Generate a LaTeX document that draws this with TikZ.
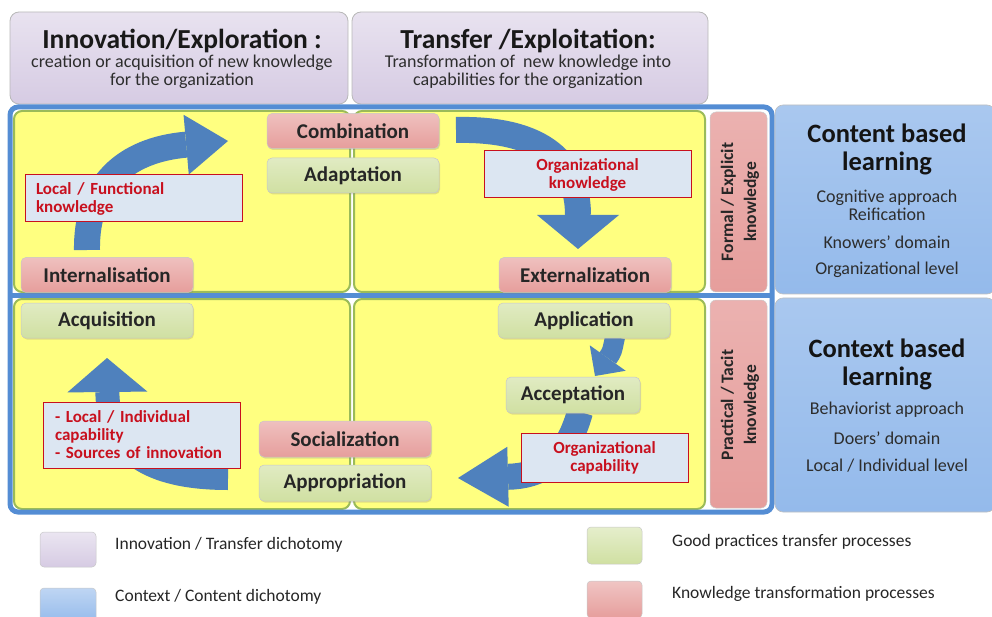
\documentclass[tikz,border=0pt]{standalone}
\usepackage{fontspec}
\setmainfont{Carlito}
\usetikzlibrary{arrows.meta,shadows}
\definecolor{pinkc}{RGB}{230,158,156}
\definecolor{greenc}{RGB}{208,224,162}
\definecolor{lavc}{RGB}{214,203,227}
\definecolor{lblue}{RGB}{148,186,235}
\definecolor{frameb}{RGB}{84,141,212}
\definecolor{yel}{RGB}{255,255,128}
\definecolor{yelline}{RGB}{155,187,89}
\definecolor{lblfill}{RGB}{220,230,242}
\definecolor{lblred}{RGB}{200,16,30}
\definecolor{arrb}{RGB}{79,129,189}
\definecolor{txtgray}{RGB}{45,45,45}
\newcommand{\fsz}[2]{\fontsize{#1}{#2}\selectfont}
\tikzset{
  proc/.style={rounded corners=5pt, minimum width=172pt, minimum height=35pt, inner sep=0pt,
    font=\bfseries\fsz{21}{22}, text=black!85, draw=black!22, line width=0.5pt,
    drop shadow={opacity=0.25, shadow xshift=1pt, shadow yshift=-1.5pt}},
  pinkproc/.style={proc, top color=pinkc!65!white, bottom color=pinkc},
  greenproc/.style={proc, top color=greenc!65!white, bottom color=greenc},
  topbox/.style={rounded corners=9pt, top color=lavc!55!white, bottom color=lavc, draw=black!28,
    line width=0.8pt, inner sep=0pt},
  toptitle/.style={font=\bfseries\fsz{27.5}{30}, text=black!90, inner sep=0pt},
  topsub/.style={font=\fsz{18}{18}, text=txtgray, align=center, inner sep=0pt},
  panel/.style={fill=yel, draw=yelline, line width=2pt, rounded corners=8pt},
  pinkv/.style={rounded corners=6pt, top color=pinkc!80!white, bottom color=pinkc, draw=black!20,
    line width=0.5pt, minimum width=57pt, inner sep=0pt},
  vtext/.style={rotate=90, font=\bfseries\fsz{17.5}{23}, text=black!85, align=center, inner sep=0pt},
  bluebox/.style={rounded corners=8pt, top color=lblue!80!white, bottom color=lblue, draw=black!25,
    line width=0.6pt, minimum width=220pt, inner sep=0pt},
  btitle/.style={font=\bfseries\fsz{26.5}{28}, text=black!92, align=center, inner sep=0pt},
  bsub/.style={font=\fsz{18}{18}, text=txtgray, align=center, inner sep=0pt},
  lbl/.style={draw=lblred, line width=1pt, fill=lblfill, text=lblred, font=\bfseries\fsz{17}{18}, inner sep=0pt},
  arr/.style={draw=arrb, line width=#1},
  legsq/.style={rounded corners=4pt, draw=black!22, line width=0.5pt, minimum width=56pt,
    minimum height=35pt, inner sep=0pt},
  legtxt/.style={font=\fsz{17.5}{18}, text=black!85, anchor=west, inner sep=0pt}
}
\begin{document}
\begin{tikzpicture}[x=1pt,y=-1pt]
\useasboundingbox (0,0) rectangle (992,617);
\clip (0,0) rectangle (992,617);

% top boxes
\node[topbox, minimum width=338pt, minimum height=92pt] (inn) at (179,58) {};
\node[toptitle] (innt) at (182,41) {Innovation/Exploration :};
\node[topsub] (inns) at (182,72) {creation or acquisition of new knowledge\\for the organization};
\node[topbox, minimum width=356pt, minimum height=92pt] (tra) at (530,58) {};
\node[toptitle] (trat) at (528,41) {Transfer /Exploitation:};
\node[topsub] (tras) at (528,72) {Transformation of \ new knowledge into\\capabilities for the organization};

% yellow panels
\draw[panel] (14,111) rectangle (350,292);
\draw[panel] (354,111) rectangle (705,292);
\draw[panel] (14,299) rectangle (350,509);
\draw[panel] (354,299) rectangle (705,509);

% blue frame
\draw[frameb, line width=5pt, rounded corners=8pt] (10,107) rectangle (772,512);
\draw[frameb, line width=5pt] (10,295.5) -- (772,295.5);

% pink vertical boxes
\node[pinkv, minimum height=180pt] (fe) at (738.5,202) {};
\node[vtext] (fet) at (740,202) {Formal / Explicit\\knowledge};
\node[pinkv, minimum height=208pt] (pt) at (738.5,404) {};
\node[vtext] (ptt) at (740,405) {Practical / Tacit\\knowledge};

% right blue boxes
\node[bluebox, minimum height=189pt] (cb) at (885,199.5) {};
\node[btitle] (cbt) at (887,149) {Content based\\learning};
\node[bsub] (cbs1) at (887,205) {Cognitive approach\\Reification};
\node[bsub] (cbs2) at (887,242) {Knowers’ domain};
\node[bsub] (cbs3) at (887,270) {Organizational level};
\node[bluebox, minimum height=214pt] (xb) at (885,405) {};
\node[btitle] (xbt) at (887,364) {Context based\\learning};
\node[bsub] (xbs1) at (887,410) {Behaviorist approach};
\node[bsub] (xbs2) at (887,438) {Doers’ domain};
\node[bsub] (xbs3) at (887,466) {Local / Individual level};

% arrow end points
\coordinate (a1s) at (87,250);  \coordinate (a1e) at (228,141);
\coordinate (a2s) at (456,130); \coordinate (a2e) at (578,249);
\coordinate (a3s) at (615,337); \coordinate (a3e) at (595,376);
\coordinate (a4s) at (580,412); \coordinate (a4e) at (458,478);
\coordinate (a5s) at (228,478); \coordinate (a5e) at (107,358);

\draw[arr=26pt, -{Triangle[length=42pt,width=60pt,line width=0pt]}] (a1s) .. controls (86,185) and (125,150) .. (a1e);
\draw[arr=26pt, -{Triangle[length=34pt,width=82pt,line width=0pt]}] (a2s) .. controls (545,128) and (578,165) .. (a2e);
\draw[arr=20pt, -{Triangle[length=22pt,width=44pt,line width=0pt]}] (a3s) .. controls (612,352) .. (a3e);
\draw[arr=26pt, -{Triangle[length=50pt,width=60pt,line width=0pt]}] (a4s) .. controls (566,462) and (540,476) .. (a4e);
\draw[arr=24pt, -{Triangle[length=34pt,width=80pt,line width=0pt]}] (a5s) .. controls (150,478) and (108,452) .. (a5e);

% process boxes
\node[pinkproc] (comb) at (353,131) {Combination};
\node[greenproc] (adap) at (353,175.5) {Adaptation};
\node[pinkproc] (intl) at (107,275) {Internalisation};
\node[pinkproc] (extl) at (585,275) {Externalization};
\node[greenproc] (acq) at (107,320.5) {Acquisition};
\node[greenproc] (appl) at (584,320.5) {Application};
\node[greenproc, minimum width=134pt, minimum height=36pt] (acc) at (573,395) {Acceptation};
\node[pinkproc, minimum height=36pt] (soc) at (345,439) {Socialization};
\node[greenproc, minimum height=36pt] (appr) at (345,483) {Appropriation};

% labels
\node[lbl, minimum width=217pt, minimum height=47pt, text width=195pt, align=left] (lf) at (133.5,198.5) {Local / Functional\\knowledge};
\node[lbl, minimum width=207pt, minimum height=47pt, align=center] (ok) at (587.5,174.5) {Organizational\\knowledge};
\node[lbl, minimum width=197pt, minimum height=66pt, text width=173pt, align=left] (lic) at (141.5,435) {- Local / Individual\\capability\\- Sources of innovation};
\node[lbl, minimum width=167pt, minimum height=49pt, align=center] (oc) at (604.5,457.5) {Organizational\\capability};

% legend
\node[legsq, top color=lavc!50!white, bottom color=lavc] (l1) at (68,549.5) {};
\node[legtxt] (l1t) at (115,545) {Innovation / Transfer dichotomy};
\node[legsq, top color=lblue!60!white, bottom color=lblue] (l2) at (68,605.5) {};
\node[legtxt] (l2t) at (115,597) {Context / Content dichotomy};
\node[legsq, minimum width=55pt, minimum height=37pt, top color=greenc!55!white, bottom color=greenc] (l3) at (614.5,545.5) {};
\node[legtxt] (l3t) at (672,542) {Good practices transfer processes};
\node[legsq, minimum width=55pt, minimum height=37pt, top color=pinkc!60!white, bottom color=pinkc] (l4) at (614.5,599.5) {};
\node[legtxt] (l4t) at (672,594) {Knowledge transformation processes};
\end{tikzpicture}
\end{document}
